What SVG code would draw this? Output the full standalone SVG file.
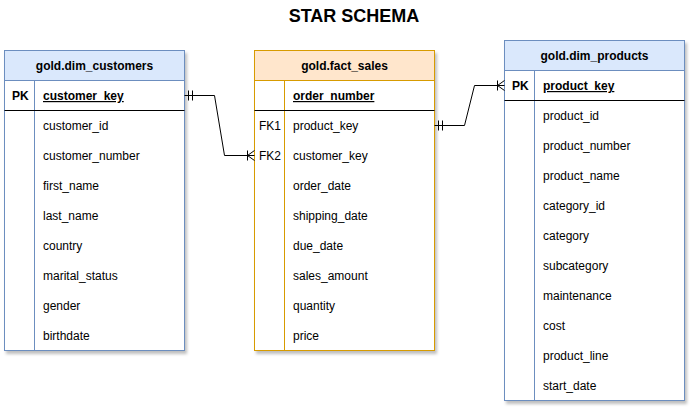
<svg xmlns="http://www.w3.org/2000/svg" width="692" height="408" viewBox="0 0 692 408">
<defs>
<filter id="sh" x="-10%" y="-10%" width="130%" height="130%">
<feDropShadow dx="2" dy="3" stdDeviation="1.5" flood-color="#000" flood-opacity="0.25"/>
</filter>
<marker id="one" viewBox="0 0 12 12" refX="0" refY="6" markerWidth="12" markerHeight="12" markerUnits="userSpaceOnUse" orient="auto">
<path d="M4,1 L4,11 M8,1 L8,11" stroke="#000" stroke-width="1" fill="none"/>
</marker>
<marker id="many" viewBox="0 0 12 12" refX="10" refY="6" markerWidth="12" markerHeight="12" markerUnits="userSpaceOnUse" orient="auto">
<path d="M3,1 L3,11 M3,6 L10,1 M3,6 L10,11" stroke="#000" stroke-width="1" fill="none"/>
</marker>
</defs>
<style>
text{font-family:"Liberation Sans",Arial,sans-serif;font-size:12px;fill:#000}
.t{font-size:18px;font-weight:bold}
.h{font-weight:bold}
.pk{font-weight:bold}
.u{font-weight:bold;text-decoration:underline;text-decoration-color:#808080}
.blue{fill:#fff;stroke:#6c8ebf}
.blueh{fill:#dae8fc;stroke:#6c8ebf}
.or{fill:#fff;stroke:#d79b00}
.orh{fill:#ffe6cc;stroke:#d79b00}
.sep{stroke:#000;stroke-width:1}
.conn{fill:none;stroke:#000;stroke-width:1}
</style>
<text class="t" x="354" y="22" text-anchor="middle">STAR SCHEMA</text>

<g id="dim_customers">
<g filter="url(#sh)"><rect class="blue" x="4.5" y="50.5" width="180" height="300"/></g>
<rect class="blueh" x="4.5" y="50.5" width="180" height="30"/>
<line x1="34.5" y1="80.5" x2="34.5" y2="350.5" stroke="#6c8ebf"/>
<line class="sep" x1="4.5" y1="110.5" x2="184.5" y2="110.5"/>
<text class="h" x="94.5" y="70" text-anchor="middle">gold.dim_customers</text>
<text class="pk" x="12" y="100">PK</text>
<text class="u" x="43" y="100">customer_key</text>
<text x="43" y="130">customer_id</text>
<text x="43" y="160">customer_number</text>
<text x="43" y="190">first_name</text>
<text x="43" y="220">last_name</text>
<text x="43" y="250">country</text>
<text x="43" y="280">marital_status</text>
<text x="43" y="310">gender</text>
<text x="43" y="340">birthdate</text>
</g>

<g id="fact_sales">
<g filter="url(#sh)"><rect class="or" x="254.5" y="50.5" width="180" height="300"/></g>
<rect class="orh" x="254.5" y="50.5" width="180" height="30"/>
<line x1="284.5" y1="80.5" x2="284.5" y2="350.5" stroke="#d79b00"/>
<line class="sep" x1="254.5" y1="110.5" x2="434.5" y2="110.5"/>
<text class="h" x="344.5" y="70" text-anchor="middle">gold.fact_sales</text>
<text class="u" x="293" y="100">order_number</text>
<text x="259" y="130">FK1</text>
<text x="293" y="130">product_key</text>
<text x="259" y="160">FK2</text>
<text x="293" y="160">customer_key</text>
<text x="293" y="190">order_date</text>
<text x="293" y="220">shipping_date</text>
<text x="293" y="250">due_date</text>
<text x="293" y="280">sales_amount</text>
<text x="293" y="310">quantity</text>
<text x="293" y="340">price</text>
</g>

<g id="dim_products">
<g filter="url(#sh)"><rect class="blue" x="504.5" y="40.5" width="180" height="360"/></g>
<rect class="blueh" x="504.5" y="40.5" width="180" height="30"/>
<line x1="534.5" y1="70.5" x2="534.5" y2="400.5" stroke="#6c8ebf"/>
<line class="sep" x1="504.5" y1="100.5" x2="684.5" y2="100.5"/>
<text class="h" x="594.5" y="60" text-anchor="middle">gold.dim_products</text>
<text class="pk" x="512" y="90">PK</text>
<text class="u" x="543" y="90">product_key</text>
<text x="543" y="120">product_id</text>
<text x="543" y="150">product_number</text>
<text x="543" y="180">product_name</text>
<text x="543" y="210">category_id</text>
<text x="543" y="240">category</text>
<text x="543" y="270">subcategory</text>
<text x="543" y="300">maintenance</text>
<text x="543" y="330">cost</text>
<text x="543" y="360">product_line</text>
<text x="543" y="390">start_date</text>
</g>

<g id="connectors">
<path class="conn" d="M184.5,95.5 L214.5,95.5 L224.5,155.5 L254.5,155.5" marker-start="url(#one)" marker-end="url(#many)"/>
<path class="conn" d="M434.5,125.5 L464.5,125.5 L474.5,85.5 L504.5,85.5" marker-start="url(#one)" marker-end="url(#many)"/>
</g>
</svg>
